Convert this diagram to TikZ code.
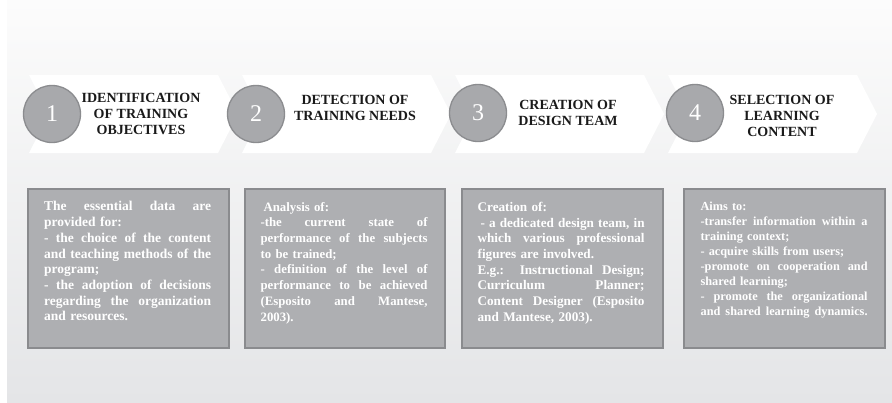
\documentclass[tikz,border=0pt]{standalone}
\usepackage{fontspec}
\setmainfont{Liberation Serif}
\definecolor{panelTop}{HTML}{FCFCFC}
\definecolor{panelBottom}{HTML}{E4E5E7}
\definecolor{discgray}{HTML}{A8A9AC}
\definecolor{discedge}{HTML}{8B8C8F}
\definecolor{boxgray}{HTML}{AEAFB2}
\definecolor{boxedge}{HTML}{8A8B8E}
\definecolor{headink}{HTML}{1A1A1A}
% one justified line spread over the full text width
\newcommand\spreadline[1]{\makebox[\hsize][s]{\spaceskip=0pt\xspaceskip=0pt #1}\\}
\begin{document}
\begin{tikzpicture}[x=1pt,y=-1pt,
  stagearrow/.style={fill=white,draw=none},
  numdisc/.style={circle,fill=discgray,draw=discedge,line width=1.3pt,
    minimum size=57pt,inner sep=0pt,text=white,
    font=\fontsize{24}{24}\selectfont},
  heading/.style={align=center,inner sep=0pt,text=headink,
    font=\fontsize{14}{16}\selectfont\bfseries},
  infobox/.style={fill=boxgray,draw=boxedge,line width=1.2pt,
    minimum height=159pt,inner sep=0pt},
  infotext/.style={align=left,inner sep=0pt,anchor=north west,text=white,
    text width=167pt},
  bodysize/.style={font=\fontsize{#1}{15.7}\selectfont\bfseries}
]
\useasboundingbox (0,0) rectangle (892,402);
\fill[white] (0,0) rectangle (892,402);
\shade[top color=panelTop,bottom color=panelBottom] (7,0) rectangle (892,402);

% chevron stages
\foreach \sx in {29,242,455,668}{
  \fill[stagearrow] (\sx,75) -- ++(189,0) -- ++(20,39) -- ++(-20,39)
    -- (\sx,153) -- ++(20,-39) -- cycle;
}

% numbered discs
\node[numdisc] (n1) at (52,114) {1};
\node[numdisc] (n2) at (256,114) {2};
\node[numdisc] (n3) at (478,113) {3};
\node[numdisc] (n4) at (695,113) {4};

% stage titles
\node[heading] (h1) at (141,114) {IDENTIFICATION\\OF TRAINING\\OBJECTIVES};
\node[heading] (h2) at (355,108) {DETECTION OF\\TRAINING NEEDS};
\node[heading] (h3) at (568,113) {CREATION OF\\DESIGN TEAM};
\node[heading] (h4) at (782,116) {SELECTION OF\\LEARNING\\CONTENT};

% description boxes
\node[infobox,minimum width=201pt] (b1) at (128.5,268.5) {};
\node[infobox,minimum width=200pt] (b2) at (345,268.5) {};
\node[infobox,minimum width=201pt] (b3) at (562.5,268.5) {};
\node[infobox,minimum width=201pt] (b4) at (784.5,268.5) {};

\node[infotext,bodysize=13.5] (t1) at ([xshift=16.5pt,yshift=-13pt]b1.north west) {%
\spreadline{The essential data are}
provided for:\\
\spreadline{- the choice of the content}
\spreadline{and teaching methods of the}
program;\\
\spreadline{- the adoption of decisions}
\spreadline{regarding the organization}
and resources.};

\node[infotext,bodysize=12.8] (t2) at ([xshift=16pt,yshift=-13.5pt]b2.north west) {%
\hspace*{3pt}Analysis of:\\
\spreadline{-the current state of}
\spreadline{performance of the subjects}
to be trained;\\
\spreadline{- definition of the level of}
\spreadline{performance to be achieved}
\spreadline{(Esposito and Mantese,}
2003).};

\node[infotext,bodysize=13.2] (t3) at ([xshift=16pt,yshift=-13.5pt]b3.north west) {%
Creation of:\\
\spreadline{\hspace*{3pt}- a dedicated design team, in}
\spreadline{which various professional}
figures are involved.\\
\spreadline{E.g.: Instructional Design;}
\spreadline{Curriculum Planner;}
\spreadline{Content Designer (Esposito}
and Mantese, 2003).};

\node[infotext,font=\fontsize{12.3}{15}\selectfont\bfseries] (t4) at ([xshift=17pt,yshift=-13pt]b4.north west) {%
Aims to:\\
\spreadline{-transfer information within a}
training context;\\
- acquire skills from users;\\
\spreadline{-promote on cooperation and}
shared learning;\\
\spreadline{- promote the organizational}
\spreadline{and shared learning dynamics.}};
\end{tikzpicture}
\end{document}
